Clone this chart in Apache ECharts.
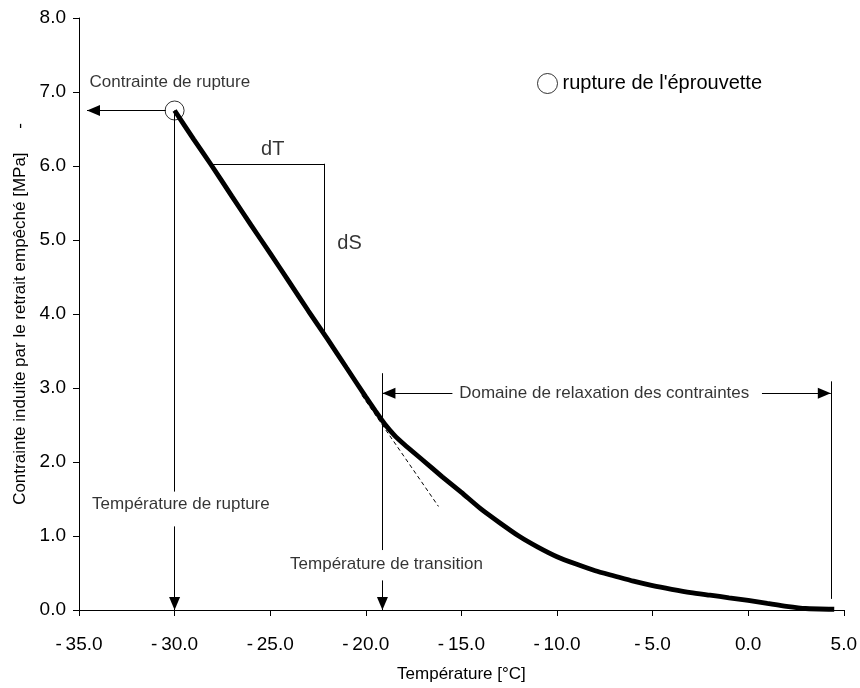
<!DOCTYPE html>
<html>
<head>
<meta charset="utf-8">
<script src="https://cdn.jsdelivr.net/npm/echarts@6/dist/echarts.min.js"></script>
<style>
  html, body { margin: 0; padding: 0; background: #fff; }
  #chart { width: 860px; height: 688px; }
</style>
</head>
<body>
<div id="chart"></div>
<script>
// Restrained-shrinkage stress vs temperature (TSRST-type test)
const tempC  = [-30.0, -29.0, -28.1, -27.0, -26.0, -25.0, -24.0, -23.0, -22.0, -21.0, -20.0, -19.5, -19.0, -18.5, -18.0, -17.0, -16.0, -15.0, -14.0, -13.0, -12.0, -11.0, -10.0, -9.0, -8.0, -7.0, -6.0, -5.0, -4.0, -3.0, -2.0, -1.0, 0.0, 1.0, 2.0, 3.0, 4.5];
const stress = [6.75, 6.36, 6.02, 5.59, 5.20, 4.82, 4.43, 4.04, 3.66, 3.27, 2.88, 2.69, 2.51, 2.36, 2.24, 2.02, 1.80, 1.59, 1.37, 1.18, 1.00, 0.85, 0.72, 0.62, 0.53, 0.46, 0.39, 0.33, 0.28, 0.235, 0.20, 0.165, 0.13, 0.09, 0.05, 0.02, 0.01];

// failure point of the specimen
const ruptureT = [-30.0];
const ruptureS = [6.75];

// characteristic temperatures
const transitionT = -19.13;
const endRelaxT = 4.32;

// axis ticks
const xTicks = [-35, -30, -25, -20, -15, -10, -5, 0, 5];
const yTicks = [0, 1, 2, 3, 4, 5, 6, 7, 8];

const FONT = "'Liberation Sans', Arial, Helvetica, sans-serif";
const BLACK = '#000';

const curve = tempC.map((t, i) => [t, stress[i]]);
const rupture = ruptureT.map((t, i) => [t, ruptureS[i]]);

// arrow-head helper for markLine ends
const head = { symbol: 'triangle', symbolSize: [11, 13], symbolOffset: [0, 6.5] };
function seg(a, b, endSymbol, style) {
  const from = { coord: a, symbol: 'none' };
  const to = Object.assign({ coord: b }, endSymbol ? head : { symbol: 'none' });
  if (style) { from.lineStyle = style; }
  return [from, to];
}

const annotations = [
  { value: [-30.25, 7.13], name: 'Contrainte de rupture' },
  { value: [-29.67, 1.425], name: 'Température de rupture' },
  { value: [-24.87, 6.225], name: 'dT', label: { fontSize: 20 } },
  { value: [-20.85, 4.95], name: 'dS', label: { fontSize: 20 } },
  { value: [-18.92, 0.62], name: 'Température de transition' },
  { value: [-7.53, 2.93], name: 'Domaine de relaxation des contraintes' }
];

const chart = echarts.init(document.getElementById('chart'), null, { renderer: 'canvas' });

chart.setOption({
  animation: false,
  backgroundColor: '#fff',
  textStyle: { fontFamily: FONT, color: BLACK },
  grid: { left: 79, right: 15, top: 18, bottom: 75, containLabel: false },
  legend: {
    data: ["rupture de l'éprouvette"],
    left: 532, top: 68,
    itemWidth: 20, itemHeight: 20,
    icon: 'circle',
    itemStyle: { color: 'transparent', borderColor: BLACK, borderWidth: 1 },
    textStyle: { fontSize: 20, color: BLACK, fontFamily: FONT },
    selectedMode: false
  },
  xAxis: {
    type: 'value',
    min: xTicks[0], max: xTicks[xTicks.length - 1], interval: 5,
    name: 'Température [°C]',
    nameLocation: 'middle', nameGap: 56,
    nameTextStyle: { fontSize: 17, color: BLACK, fontFamily: FONT },
    axisLine: { show: true, onZero: false, lineStyle: { color: BLACK, width: 1 } },
    axisTick: { show: true, inside: false, length: 6, lineStyle: { color: BLACK } },
    axisLabel: {
      margin: 25, fontSize: 19, color: BLACK, fontFamily: FONT,
      formatter: v => (v < 0 ? '-\u2009' + Math.abs(v).toFixed(1) : v.toFixed(1))
    },
    splitLine: { show: false }
  },
  yAxis: {
    type: 'value',
    min: yTicks[0], max: yTicks[yTicks.length - 1], interval: 1,
    name: 'Contrainte induite par le retrait empêché [MPa]     -',
    nameLocation: 'middle', nameRotate: 90, nameGap: 50,
    nameTextStyle: { fontSize: 17, color: BLACK, fontFamily: FONT },
    axisLine: { show: true, onZero: false, lineStyle: { color: BLACK, width: 1 } },
    axisTick: { show: true, inside: false, length: 6, lineStyle: { color: BLACK } },
    axisLabel: {
      margin: 13, fontSize: 19, color: BLACK, fontFamily: FONT,
      formatter: v => v.toFixed(1)
    },
    splitLine: { show: false }
  },
  series: [
    {
      name: 'contrainte',
      type: 'line',
      data: curve,
      symbol: 'none',
      smooth: 0.2,
      lineStyle: { color: BLACK, width: 4.8 },
      silent: true,
      z: 5,
      markLine: {
        silent: true,
        symbol: ['none', 'none'],
        label: { show: false },
        emphasis: { disabled: true },
        lineStyle: { color: BLACK, width: 1, type: 'solid' },
        data: [
          // rupture stress: arrow to the stress axis
          seg([-30.46, ruptureS[0]], [-34.58, ruptureS[0]], true),
          // rupture temperature: vertical drop, split around its caption
          seg([ruptureT[0], ruptureS[0]], [ruptureT[0], 1.60], false),
          seg([ruptureT[0], 1.13], [ruptureT[0], 0], true),
          // slope triangle dT / dS
          seg([-28.1, 6.03], [-22.15, 6.03], false),
          seg([-22.15, 6.03], [-22.15, 3.68], false),
          // transition temperature
          seg([transitionT, 3.2], [transitionT, 0.81], false),
          seg([transitionT, 0.40], [transitionT, 0], true),
          // relaxation domain
          seg([-15.47, 2.93], [transitionT, 2.93], true),
          seg([0.72, 2.93], [endRelaxT, 2.93], true),
          seg([endRelaxT, 3.09], [endRelaxT, 0.15], false),
          // tangent to the linear part
          seg([-20.2, 2.90], [-16.2, 1.40], false, { type: [4, 3], width: 1, color: BLACK })
        ]
      }
    },
    {
      name: "rupture de l'éprouvette",
      type: 'scatter',
      data: rupture,
      symbol: 'circle',
      symbolSize: 19,
      itemStyle: { color: 'transparent', borderColor: BLACK, borderWidth: 1 },
      silent: true,
      z: 6
    },
    {
      name: 'annotations',
      type: 'scatter',
      data: annotations,
      symbolSize: 1,
      itemStyle: { color: 'transparent' },
      silent: true,
      label: {
        show: true,
        position: 'inside',
        formatter: '{b}',
        fontSize: 17,
        color: BLACK,
        fontFamily: FONT
      },
      z: 7
    }
  ]
});
</script>
</body>
</html>
